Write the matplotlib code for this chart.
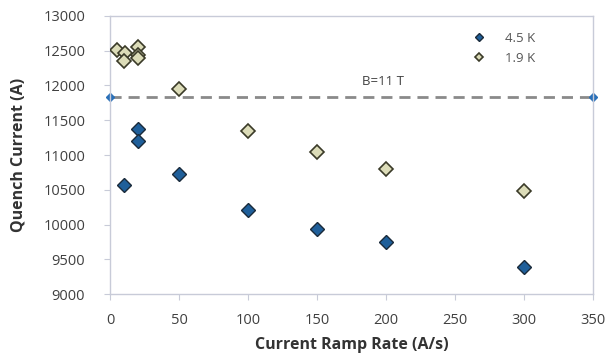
import matplotlib.pyplot as plt

plt.rcParams['font.family'] = ['Open Sans', 'DejaVu Sans']

ramp_45 = [10, 20, 20, 50, 100, 150, 200, 300]
quench_45 = [10570, 11370, 11200, 10720, 10210, 9930, 9750, 9390]

ramp_19 = [5, 11, 10, 20, 20, 20, 50, 100, 150, 200, 300]
quench_19 = [12510, 12470, 12350, 12550, 12440, 12400, 11950, 11340, 11050, 10800, 10480]

field_x = [0, 350]
field_y = [11840, 11840]

fig = plt.figure(figsize=(6.09, 3.63), dpi=100)
ax = fig.add_axes([0.181, 0.19, 0.793, 0.766])

ax.plot(field_x, field_y, color='#8a8a8a', lw=2, ls=(0, (4, 2.5)), zorder=1)
ax.plot(field_x, field_y, ls='none', marker='D', ms=4, color='#2a70b8',
        clip_on=False, zorder=2)
ax.text(198, 12000, 'B=11 T', fontsize=9.5, color='#404040', ha='center')

ax.plot(ramp_45, quench_45, ls='none', marker='D', ms=7.5, mfc='#1f5f9a',
        mec='#1a2a3a', mew=1, label='4.5 K', zorder=3)
ax.plot(ramp_19, quench_19, ls='none', marker='D', ms=7.5, mfc='#dcdcb8',
        mec='#3a3a28', mew=1.2, label='1.9 K', zorder=3)

ax.set_xlim(0, 350)
ax.set_ylim(9000, 13000)
ax.set_xticks(range(0, 351, 50))
ax.set_yticks(range(9000, 13001, 500))
ax.tick_params(length=4, width=0.8, color='#c8cbd8', labelsize=10.5,
               labelcolor='#404040')
ax.tick_params(axis='x', pad=10)
ax.tick_params(axis='y', pad=14)
for s in ax.spines.values():
    s.set_color('#c8cbd8')
    s.set_linewidth(1)

ax.set_xlabel('Current Ramp Rate (A/s)', fontsize=11.5, fontweight='bold',
              color='#333333', labelpad=6)
ax.set_ylabel('Quench Current (A)', fontsize=11.5, fontweight='bold',
              color='#333333', labelpad=12)

leg = ax.legend(loc='upper right', bbox_to_anchor=(0.905, 0.985), frameon=False,
                fontsize=9.5, markerscale=0.55, handletextpad=1.0, labelspacing=0.5)
for t in leg.get_texts():
    t.set_color('#555555')

fig.savefig('out.png')
